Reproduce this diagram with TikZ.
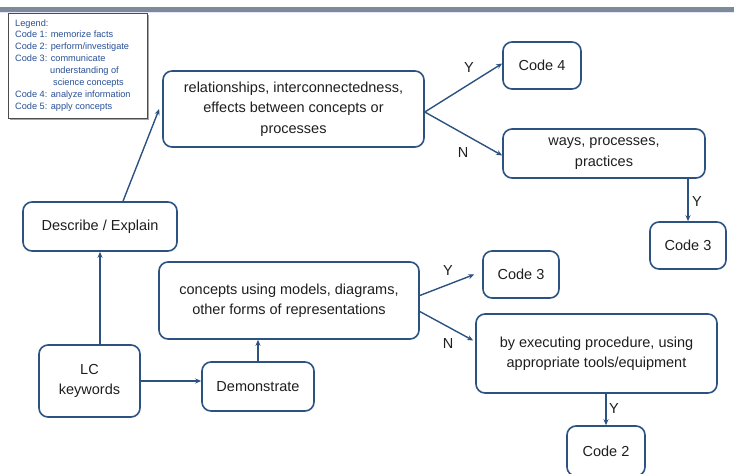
\documentclass[tikz,border=0pt]{standalone}
\usepackage{fontspec}
\setmainfont{Liberation Sans}
\usetikzlibrary{arrows.meta,calc}
\definecolor{boxblue}{RGB}{44,82,130}
\definecolor{legblue}{RGB}{40,80,150}
\definecolor{bargray}{RGB}{123,139,151}
\definecolor{txt}{RGB}{30,30,30}
\begin{document}
\begin{tikzpicture}[x=1pt,y=-1pt,
  box/.style={draw=boxblue, line width=1.6pt, rounded corners=9pt, align=center, text=txt,
    font=\fontsize{14.5}{20.5}\selectfont, inner sep=0pt},
  conn/.style={draw=boxblue, line width=1.4pt, -{Stealth[length=6pt,width=5pt]}},
  yn/.style={font=\fontsize{14.5}{17}\selectfont, text=txt, inner sep=0pt},
  leg/.style={font=\fontsize{9.2}{10}\selectfont, text=legblue, anchor=base west, inner sep=0pt}]

\useasboundingbox (0,0) rectangle (734,474);
\fill[bargray] (0,7) rectangle (734,12.3);
\fill[blue!10] (0,12.3) rectangle (734,13.2);

% legend
\fill[black!35] (9.5,14.5) rectangle (148.5,119.5);
\draw[fill=white, draw=black!70, line width=1pt] (8,13) rectangle (147,118);
\node[leg] (lg0) at (15,26) {Legend:};
\node[leg] (lg1) at (15,37.9) {Code 1: memorize facts};
\node[leg] (lg2) at (15,49.8) {Code 2: perform/investigate};
\node[leg] (lg3) at (15,61.7) {Code 3: communicate};
\node[leg] (lg4) at (50,73.6) {understanding of};
\node[leg] (lg5) at (53,85.5) {science concepts};
\node[leg] (lg6) at (15,97.4) {Code 4: analyze information};
\node[leg] (lg7) at (15,109.3) {Code 5: apply concepts};

% boxes
\node[box, minimum width=261pt, minimum height=76pt] (rel) at (293.5,109)
  {relationships, interconnectedness,\\effects between concepts or\\processes};
\node[box, minimum width=78pt, minimum height=47pt] (code4) at (542,65.5) {Code 4};
\node[box, minimum width=202pt, minimum height=49pt] (ways) at (604,153.5)
  {ways, processes,\\practices};
\node[box, minimum width=76pt, minimum height=47pt] (code3a) at (688,245.5) {Code 3};
\node[box, minimum width=154pt, minimum height=49pt] (desc) at (100,226.5) {Describe / Explain};
\node[box, minimum width=260pt, minimum height=77pt] (conc) at (289,300.5)
  {concepts using models, diagrams,\\other forms of representations};
\node[box, minimum width=76pt, minimum height=47pt] (code3b) at (521,274.5) {Code 3};
\node[box, minimum width=241pt, minimum height=79pt] (exec) at (596.5,353.5)
  {by executing procedure, using\\appropriate tools/equipment};
\node[box, minimum width=78pt, minimum height=50pt] (code2) at (606,451) {Code 2};
\node[box, minimum width=101pt, minimum height=72pt] (lc) at (89.5,381) {LC\\keywords};
\node[box, minimum width=112pt, minimum height=49pt] (demo) at (258,386.5) {Demonstrate};

% connectors
\draw[conn] (desc.south |- lc.north) -- (desc.south);
\draw[conn] (lc.east) -- (lc.east -| demo.west);
\draw[conn] (demo.north) -- (demo.north |- conc.south);
\draw[conn] ($(desc.north)+(23,0)$) -- ($(rel.west)+(-3,0)$);
\draw[conn] ($(rel.east)+(0,3)$) -- ($(code4.west)+(0,-2)$);
\draw[conn] ($(rel.east)+(0,3)$) -- ($(ways.west)+(0,2)$);
\draw[conn] (code3a.north |- ways.south) -- (code3a.north);
\draw[conn] ($(conc.east)+(0,-5)$) -- ($(code3b.west)+(-8,0)$);
\draw[conn] ($(conc.east)+(0,11)$) -- ($(exec.west)+(-2,-13)$);
\draw[conn] (code2.north |- exec.south) -- (code2.north);

% labels
\node[yn] (y1) at (469,68) {Y};
\node[yn] (n1) at (463,153) {N};
\node[yn] (y2) at (697,202) {Y};
\node[yn] (y3) at (448,271) {Y};
\node[yn] (n2) at (448,344) {N};
\node[yn] (y4) at (614,409) {Y};
\end{tikzpicture}
\end{document}
